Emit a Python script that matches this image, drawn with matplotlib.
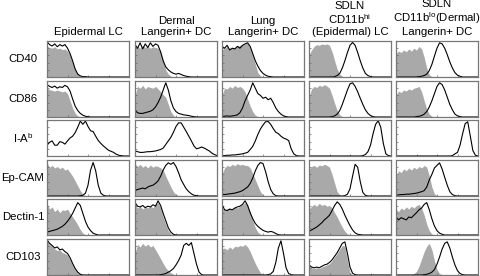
import numpy as np
import matplotlib
matplotlib.use("Agg")
import matplotlib.pyplot as plt

plt.rcParams["font.family"] = ["Liberation Sans", "DejaVu Sans"]

# fluorescence channel (log decades), 33 bins
channels = np.linspace(0, 4, 33)

col_titles = [
    "Epidermal LC",
    "Dermal\nLangerin+ DC",
    "Lung\nLangerin+ DC",
    "SDLN\nCD11b$^{\\mathregular{hi}}$\n(Epidermal) LC",
    "SDLN\nCD11b$^{\\mathregular{lo}}$(Dermal)\nLangerin+ DC",
]
row_labels = ["CD40", "CD86", "I-A$^{\\mathregular{b}}$", "Ep-CAM", "Dectin-1", "CD103"]

# % of max, isotype control (grey) and specific stain (black line)
cd40_iso = [
    [0.86, 0.82, 0.8, 0.84, 0.78, 0.8, 0.76, 0.78, 0.72, 0.6, 0.4, 0.2, 0.07, 0.02, 0, 0, 0, 0, 0, 0, 0, 0, 0, 0, 0, 0, 0, 0, 0, 0, 0, 0, 0],
    [0.82, 0.85, 0.8, 0.88, 0.82, 0.85, 0.8, 0.84, 0.82, 0.8, 0.7, 0.45, 0.2, 0.08, 0.02, 0, 0, 0, 0, 0, 0, 0, 0, 0, 0, 0, 0, 0, 0, 0, 0, 0, 0],
    [0.75, 0.8, 0.85, 0.78, 0.82, 0.8, 0.85, 0.88, 0.9, 0.92, 0.95, 0.8, 0.6, 0.35, 0.12, 0.03, 0, 0, 0, 0, 0, 0, 0, 0, 0, 0, 0, 0, 0, 0, 0, 0, 0],
    [0.6, 0.75, 0.85, 0.9, 0.88, 0.92, 0.9, 0.92, 0.88, 0.7, 0.45, 0.22, 0.08, 0.02, 0, 0, 0, 0, 0, 0, 0, 0, 0, 0, 0, 0, 0, 0, 0, 0, 0, 0, 0],
    [0.65, 0.72, 0.68, 0.75, 0.7, 0.78, 0.72, 0.8, 0.75, 0.85, 0.78, 0.55, 0.25, 0.06, 0.01, 0, 0, 0, 0, 0, 0, 0, 0, 0, 0, 0, 0, 0, 0, 0, 0, 0, 0],
]
cd40_stain = [
    [0.98, 0.9, 0.86, 0.92, 0.84, 0.9, 0.86, 0.9, 0.8, 0.65, 0.45, 0.22, 0.08, 0.03, 0.01, 0.01, 0, 0, 0, 0, 0, 0, 0, 0, 0, 0, 0, 0, 0, 0, 0, 0, 0],
    [0.9, 0.8, 0.95, 0.78, 0.92, 0.82, 0.95, 0.85, 0.92, 0.88, 0.7, 0.45, 0.28, 0.2, 0.14, 0.1, 0.08, 0.1, 0.07, 0.04, 0.02, 0.01, 0, 0, 0, 0, 0, 0, 0, 0, 0, 0, 0],
    [0.85, 0.8, 0.88, 0.75, 0.8, 0.78, 0.85, 0.8, 0.88, 0.92, 0.95, 0.85, 0.65, 0.45, 0.3, 0.18, 0.1, 0.05, 0.02, 0.01, 0, 0, 0, 0, 0, 0, 0, 0, 0, 0, 0, 0, 0],
    [0, 0, 0, 0, 0, 0, 0, 0, 0, 0, 0.01, 0.04, 0.1, 0.25, 0.45, 0.68, 0.88, 0.96, 0.88, 0.68, 0.45, 0.25, 0.1, 0.04, 0.01, 0, 0, 0, 0, 0, 0, 0, 0],
    [0, 0, 0, 0, 0, 0, 0, 0, 0, 0.01, 0.02, 0.04, 0.08, 0.18, 0.35, 0.58, 0.8, 0.95, 0.92, 0.8, 0.62, 0.42, 0.25, 0.12, 0.05, 0.02, 0, 0, 0, 0, 0, 0, 0],
]

cd86_iso = [
    [0.8, 0.76, 0.74, 0.72, 0.75, 0.72, 0.7, 0.72, 0.65, 0.45, 0.25, 0.1, 0.03, 0, 0, 0, 0, 0, 0, 0, 0, 0, 0, 0, 0, 0, 0, 0, 0, 0, 0, 0, 0],
    [0.6, 0.85, 0.8, 0.88, 0.78, 0.85, 0.82, 0.8, 0.85, 0.78, 0.7, 0.62, 0.55, 0.35, 0.15, 0.04, 0, 0, 0, 0, 0, 0, 0, 0, 0, 0, 0, 0, 0, 0, 0, 0, 0],
    [0.6, 0.8, 0.78, 0.85, 0.8, 0.88, 0.82, 0.85, 0.8, 0.7, 0.5, 0.3, 0.15, 0.05, 0.01, 0, 0, 0, 0, 0, 0, 0, 0, 0, 0, 0, 0, 0, 0, 0, 0, 0, 0],
    [0.55, 0.78, 0.85, 0.82, 0.88, 0.85, 0.9, 0.86, 0.8, 0.6, 0.38, 0.18, 0.06, 0.01, 0, 0, 0, 0, 0, 0, 0, 0, 0, 0, 0, 0, 0, 0, 0, 0, 0, 0, 0],
    [0.6, 0.72, 0.68, 0.75, 0.72, 0.78, 0.75, 0.8, 0.82, 0.85, 0.7, 0.45, 0.22, 0.08, 0.02, 0, 0, 0, 0, 0, 0, 0, 0, 0, 0, 0, 0, 0, 0, 0, 0, 0, 0],
]
cd86_stain = [
    [0.9, 0.85, 0.82, 0.86, 0.8, 0.84, 0.82, 0.88, 0.84, 0.72, 0.5, 0.3, 0.18, 0.1, 0.05, 0.02, 0.01, 0, 0, 0, 0, 0, 0, 0, 0, 0, 0, 0, 0, 0, 0, 0, 0],
    [0.18, 0.12, 0.1, 0.1, 0.12, 0.14, 0.16, 0.2, 0.28, 0.4, 0.55, 0.75, 0.95, 0.75, 0.45, 0.25, 0.15, 0.1, 0.08, 0.06, 0.05, 0.04, 0.02, 0.01, 0, 0, 0, 0, 0, 0, 0, 0, 0],
    [0.02, 0.02, 0.03, 0.02, 0.03, 0.04, 0.06, 0.12, 0.25, 0.45, 0.6, 0.75, 0.95, 0.8, 0.65, 0.6, 0.52, 0.55, 0.48, 0.52, 0.4, 0.25, 0.15, 0.08, 0.03, 0.01, 0, 0, 0, 0, 0, 0, 0],
    [0, 0, 0, 0, 0, 0, 0, 0, 0, 0.01, 0.03, 0.08, 0.18, 0.35, 0.55, 0.75, 0.92, 0.95, 0.85, 0.7, 0.52, 0.35, 0.2, 0.1, 0.04, 0.01, 0, 0, 0, 0, 0, 0, 0],
    [0, 0, 0, 0, 0, 0, 0, 0, 0.01, 0.02, 0.04, 0.08, 0.15, 0.28, 0.45, 0.65, 0.85, 0.95, 0.9, 0.75, 0.55, 0.35, 0.2, 0.08, 0.03, 0.01, 0, 0, 0, 0, 0, 0, 0],
]

iab_iso = [None, None, None, None, None]
iab_stain = [
    [0.3, 0.38, 0.42, 0.3, 0.3, 0.4, 0.38, 0.33, 0.42, 0.5, 0.55, 0.65, 0.8, 0.97, 0.88, 0.97, 0.82, 0.7, 0.68, 0.55, 0.43, 0.35, 0.28, 0.22, 0.16, 0.13, 0.1, 0.05, 0.02, 0.01, 0, 0, 0],
    [0.14, 0.12, 0.1, 0.1, 0.11, 0.12, 0.12, 0.13, 0.14, 0.16, 0.18, 0.22, 0.32, 0.42, 0.52, 0.66, 0.82, 0.92, 0.92, 0.8, 0.68, 0.55, 0.42, 0.28, 0.2, 0.22, 0.25, 0.22, 0.18, 0.14, 0.08, 0.04, 0.01],
    [0.01, 0.01, 0.02, 0.02, 0.03, 0.03, 0.04, 0.05, 0.06, 0.08, 0.1, 0.18, 0.27, 0.42, 0.6, 0.75, 0.86, 0.95, 0.96, 0.88, 0.76, 0.66, 0.62, 0.55, 0.5, 0.47, 0.43, 0.2, 0.06, 0.01, 0, 0, 0],
    [0, 0, 0, 0, 0, 0, 0, 0, 0, 0, 0, 0, 0, 0, 0, 0, 0, 0, 0, 0, 0, 0.01, 0.04, 0.12, 0.3, 0.62, 0.88, 0.98, 0.8, 0.35, 0.06, 0.01, 0],
    [0, 0, 0, 0, 0, 0, 0, 0, 0, 0, 0, 0, 0, 0, 0, 0, 0, 0, 0, 0, 0, 0, 0.01, 0.06, 0.1, 0.3, 0.62, 0.9, 0.95, 0.55, 0.15, 0.02, 0],
]

epcam_iso = [
    [0.92, 0.8, 0.85, 0.78, 0.82, 0.76, 0.8, 0.72, 0.75, 0.65, 0.55, 0.42, 0.28, 0.15, 0.04, 0.01, 0, 0, 0, 0, 0, 0, 0, 0, 0, 0, 0, 0, 0, 0, 0, 0, 0],
    [0.9, 0.82, 0.88, 0.8, 0.85, 0.78, 0.86, 0.8, 0.84, 0.82, 0.78, 0.72, 0.55, 0.4, 0.25, 0.12, 0.04, 0.01, 0, 0, 0, 0, 0, 0, 0, 0, 0, 0, 0, 0, 0, 0, 0],
    [0.6, 0.78, 0.85, 0.82, 0.88, 0.84, 0.9, 0.86, 0.88, 0.85, 0.85, 0.78, 0.62, 0.45, 0.28, 0.12, 0.03, 0, 0, 0, 0, 0, 0, 0, 0, 0, 0, 0, 0, 0, 0, 0, 0],
    [0.75, 0.82, 0.85, 0.8, 0.86, 0.84, 0.88, 0.85, 0.8, 0.6, 0.35, 0.12, 0.03, 0, 0, 0, 0, 0, 0, 0, 0, 0, 0, 0, 0, 0, 0, 0, 0, 0, 0, 0, 0],
    [0.55, 0.7, 0.65, 0.75, 0.7, 0.78, 0.72, 0.8, 0.75, 0.82, 0.78, 0.85, 0.8, 0.55, 0.25, 0.06, 0.01, 0, 0, 0, 0, 0, 0, 0, 0, 0, 0, 0, 0, 0, 0, 0, 0],
]
epcam_stain = [
    [0, 0, 0, 0, 0, 0, 0, 0, 0, 0, 0, 0, 0, 0.01, 0.02, 0.08, 0.3, 0.72, 0.93, 0.7, 0.3, 0.08, 0.02, 0, 0, 0, 0, 0, 0, 0, 0, 0, 0],
    [0.15, 0.18, 0.2, 0.22, 0.2, 0.25, 0.28, 0.3, 0.35, 0.42, 0.55, 0.72, 0.85, 0.92, 0.88, 0.93, 0.82, 0.65, 0.45, 0.32, 0.2, 0.12, 0.06, 0.02, 0.01, 0, 0, 0, 0, 0, 0, 0, 0],
    [0.05, 0.04, 0.05, 0.06, 0.07, 0.08, 0.1, 0.12, 0.15, 0.2, 0.25, 0.35, 0.5, 0.7, 0.85, 0.93, 0.9, 0.68, 0.4, 0.18, 0.06, 0.01, 0, 0, 0, 0, 0, 0, 0, 0, 0, 0, 0],
    [0, 0, 0, 0, 0, 0, 0, 0, 0, 0, 0, 0, 0, 0, 0.01, 0.05, 0.2, 0.55, 0.88, 0.8, 0.4, 0.1, 0.02, 0, 0, 0, 0, 0, 0, 0, 0, 0, 0],
    [0.03, 0.03, 0.04, 0.04, 0.05, 0.05, 0.06, 0.07, 0.08, 0.1, 0.12, 0.15, 0.25, 0.45, 0.6, 0.78, 0.85, 0.92, 0.75, 0.52, 0.3, 0.12, 0.04, 0.01, 0, 0, 0, 0, 0, 0, 0, 0, 0],
]

dectin_iso = [
    [0.88, 0.72, 0.78, 0.65, 0.72, 0.62, 0.7, 0.68, 0.72, 0.6, 0.5, 0.4, 0.28, 0.15, 0.05, 0.01, 0, 0, 0, 0, 0, 0, 0, 0, 0, 0, 0, 0, 0, 0, 0, 0, 0],
    [0.85, 0.75, 0.8, 0.72, 0.78, 0.75, 0.8, 0.76, 0.85, 0.9, 0.75, 0.5, 0.3, 0.12, 0.03, 0, 0, 0, 0, 0, 0, 0, 0, 0, 0, 0, 0, 0, 0, 0, 0, 0, 0],
    [0.75, 0.7, 0.72, 0.75, 0.7, 0.78, 0.75, 0.8, 0.85, 0.9, 0.8, 0.6, 0.4, 0.2, 0.08, 0.02, 0, 0, 0, 0, 0, 0, 0, 0, 0, 0, 0, 0, 0, 0, 0, 0, 0],
    [0.72, 0.8, 0.85, 0.8, 0.88, 0.82, 0.85, 0.8, 0.82, 0.75, 0.62, 0.5, 0.35, 0.22, 0.1, 0.03, 0, 0, 0, 0, 0, 0, 0, 0, 0, 0, 0, 0, 0, 0, 0, 0, 0],
    [0.72, 0.65, 0.75, 0.7, 0.78, 0.72, 0.8, 0.75, 0.82, 0.85, 0.75, 0.55, 0.3, 0.12, 0.03, 0, 0, 0, 0, 0, 0, 0, 0, 0, 0, 0, 0, 0, 0, 0, 0, 0, 0],
]
dectin_stain = [
    [0.08, 0.1, 0.12, 0.14, 0.16, 0.2, 0.24, 0.3, 0.38, 0.48, 0.6, 0.75, 0.9, 0.82, 0.6, 0.38, 0.22, 0.12, 0.05, 0.02, 0, 0, 0, 0, 0, 0, 0, 0, 0, 0, 0, 0, 0],
    [0.9, 0.8, 0.78, 0.82, 0.76, 0.8, 0.78, 0.84, 0.8, 0.95, 0.82, 0.6, 0.4, 0.2, 0.08, 0.02, 0, 0, 0, 0, 0, 0, 0, 0, 0, 0, 0, 0, 0, 0, 0, 0, 0],
    [0.85, 0.7, 0.68, 0.72, 0.7, 0.75, 0.78, 0.8, 0.85, 0.95, 0.82, 0.62, 0.45, 0.32, 0.24, 0.18, 0.13, 0.1, 0.08, 0.1, 0.08, 0.04, 0.01, 0, 0, 0, 0, 0, 0, 0, 0, 0, 0],
    [0.1, 0.14, 0.18, 0.22, 0.28, 0.34, 0.42, 0.48, 0.55, 0.68, 0.82, 0.92, 0.85, 0.72, 0.55, 0.4, 0.26, 0.14, 0.06, 0.02, 0.01, 0, 0, 0, 0, 0, 0, 0, 0, 0, 0, 0, 0],
    [0.5, 0.42, 0.48, 0.45, 0.42, 0.5, 0.48, 0.55, 0.62, 0.7, 0.75, 0.85, 0.9, 0.7, 0.45, 0.25, 0.12, 0.05, 0.02, 0, 0, 0, 0, 0, 0, 0, 0, 0, 0, 0, 0, 0, 0],
]

cd103_iso = [
    [0.95, 0.85, 0.8, 0.72, 0.68, 0.7, 0.62, 0.6, 0.55, 0.42, 0.28, 0.15, 0.06, 0.02, 0, 0, 0, 0, 0, 0, 0, 0, 0, 0, 0, 0, 0, 0, 0, 0, 0, 0, 0],
    [0.6, 0.85, 0.78, 0.88, 0.8, 0.86, 0.78, 0.82, 0.7, 0.58, 0.45, 0.32, 0.2, 0.12, 0.06, 0.02, 0, 0, 0, 0, 0, 0, 0, 0, 0, 0, 0, 0, 0, 0, 0, 0, 0],
    [0.72, 0.75, 0.7, 0.78, 0.72, 0.8, 0.78, 0.82, 0.8, 0.85, 0.78, 0.65, 0.48, 0.32, 0.18, 0.06, 0.01, 0, 0, 0, 0, 0, 0, 0, 0, 0, 0, 0, 0, 0, 0, 0, 0],
    [0.25, 0.2, 0.18, 0.2, 0.18, 0.22, 0.25, 0.28, 0.32, 0.4, 0.5, 0.6, 0.72, 0.82, 0.8, 0.4, 0.08, 0, 0, 0, 0, 0, 0, 0, 0, 0, 0, 0, 0, 0, 0, 0, 0],
    [0, 0, 0, 0, 0, 0, 0.01, 0.04, 0.1, 0.25, 0.45, 0.65, 0.8, 0.88, 0.7, 0.4, 0.15, 0.04, 0.01, 0, 0, 0, 0, 0, 0, 0, 0, 0, 0, 0, 0, 0, 0],
]
cd103_stain = [
    [0.98, 0.88, 0.82, 0.75, 0.78, 0.7, 0.72, 0.65, 0.6, 0.48, 0.32, 0.18, 0.08, 0.02, 0, 0, 0, 0, 0, 0, 0, 0, 0, 0, 0, 0, 0, 0, 0, 0, 0, 0, 0],
    [0, 0, 0, 0, 0, 0, 0, 0, 0, 0, 0.01, 0.02, 0.04, 0.08, 0.12, 0.18, 0.28, 0.4, 0.55, 0.82, 0.88, 0.82, 0.9, 0.6, 0.3, 0.08, 0.01, 0, 0, 0, 0, 0, 0],
    [0, 0, 0, 0, 0, 0, 0, 0, 0, 0, 0, 0, 0, 0, 0, 0, 0, 0, 0.01, 0.03, 0.1, 0.35, 0.75, 0.95, 0.6, 0.2, 0.04, 0.01, 0, 0, 0, 0, 0],
    [0.28, 0.22, 0.2, 0.22, 0.2, 0.24, 0.28, 0.3, 0.35, 0.42, 0.52, 0.62, 0.75, 0.88, 0.92, 0.6, 0.22, 0.05, 0.01, 0, 0, 0, 0, 0, 0, 0, 0, 0, 0, 0, 0, 0, 0],
    [0, 0, 0, 0, 0, 0, 0, 0, 0, 0, 0, 0.01, 0.02, 0.04, 0.08, 0.15, 0.3, 0.5, 0.72, 0.88, 0.92, 0.75, 0.5, 0.28, 0.12, 0.04, 0.01, 0, 0, 0, 0, 0, 0],
]

rows = [
    (cd40_iso, cd40_stain),
    (cd86_iso, cd86_stain),
    (iab_iso, iab_stain),
    (epcam_iso, epcam_stain),
    (dectin_iso, dectin_stain),
    (cd103_iso, cd103_stain),
]

W, H = 480, 276
fig = plt.figure(figsize=(W / 100, H / 100), dpi=100)

col_left = [47, 135, 222, 309, 396]
row_top = [41, 81, 120, 160, 199, 239]
pw, ph = 82, 36

for r, (iso_list, stain_list) in enumerate(rows):
    for c in range(5):
        ax = fig.add_axes([col_left[c] / W, 1 - (row_top[r] + ph) / H, pw / W, ph / H])
        iso = iso_list[c]
        if iso is not None:
            ax.fill_between(channels, iso, color="#a9a9a9", lw=0)
        ax.plot(channels, stain_list[c], color="black", lw=0.8)
        ax.set_xlim(0, 4)
        ax.set_ylim(0, 1.0)
        ax.set_xticks([0, 1, 2, 3, 4])
        ax.set_yticks([0.2, 0.4, 0.6, 0.8])
        ax.tick_params(direction="in", length=1.5, width=0.5, colors="#666666",
                       labelleft=False, labelbottom=False)
        for s in ax.spines.values():
            s.set_color("#777777")
            s.set_linewidth(0.9)
        if r == 0:
            ax.text(0.5, 1.1, col_titles[c], transform=ax.transAxes, ha="center",
                    va="bottom", fontsize=8.2, linespacing=1.15)
        if c == 0:
            fig.text(23 / W, 1 - (row_top[r] + ph / 2) / H, row_labels[r],
                     ha="center", va="center", fontsize=8.2)

fig.savefig("out.png", dpi=100)
